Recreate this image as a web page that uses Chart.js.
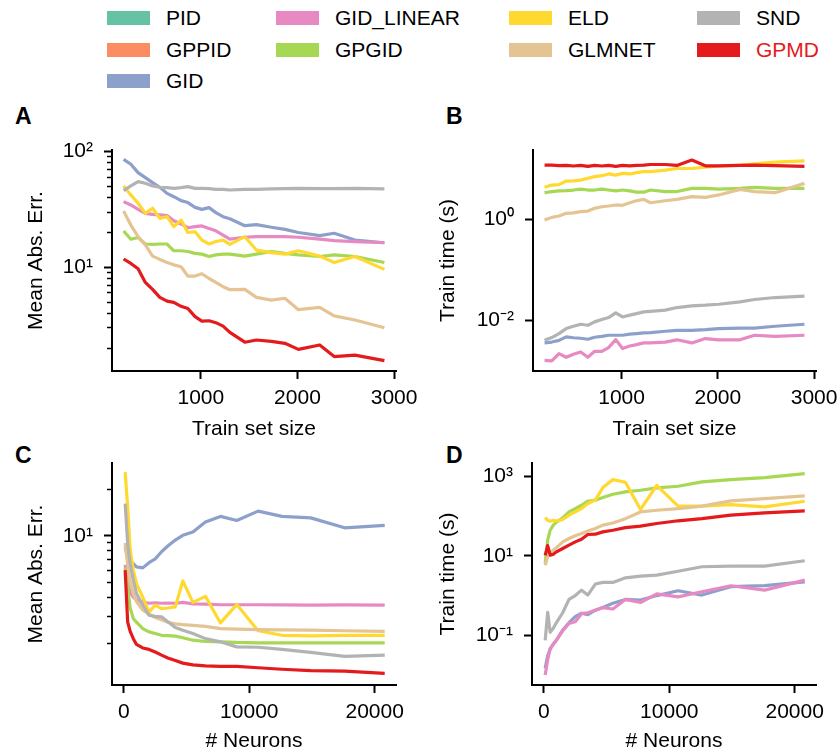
<!DOCTYPE html>
<html><head><meta charset="utf-8">
<script src="https://cdn.jsdelivr.net/npm/chart.js@4"></script>
<style>
body{margin:0;background:#fff;width:840px;height:754px;position:relative;overflow:hidden;font-family:"Liberation Sans",Arial,sans-serif;color:#000}
canvas{position:absolute}
.lg{position:absolute;display:flex;align-items:center;height:20px;font-size:21px;line-height:20px;white-space:nowrap}
.lg .b{display:inline-block;width:43px;height:14px;margin-right:16px}
.pl{position:absolute;font-weight:bold;font-size:23px;line-height:22px}
</style></head><body>
<div id="legend"></div>
<div class="pl" style="left:15px;top:105px">A</div>
<div class="pl" style="left:446px;top:105px">B</div>
<div class="pl" style="left:15px;top:444px">C</div>
<div class="pl" style="left:446px;top:444px">D</div>
<canvas id="cA" width="420" height="345" style="left:0;top:100px"></canvas>
<canvas id="cB" width="420" height="345" style="left:420px;top:100px"></canvas>
<canvas id="cC" width="420" height="314" style="left:0;top:440px"></canvas>
<canvas id="cD" width="420" height="314" style="left:420px;top:440px"></canvas>
<script>
// ---------- series ----------
const seriesNames  = ['PID','GPPID','GID','GID_LINEAR','GPGID','ELD','GLMNET','SND','GPMD'];
const seriesColors = ['#66c2a5','#fc8d62','#8da0cb','#e78ac3','#a6d854','#ffd92f','#e5c494','#b3b3b3','#e41a1c'];

// ---------- x values ----------
const trainSizes = [200,275,350,425,500,575,650,720,795,865,940,1010,1085,1155,1230,1300,1455,1575,1730,1870,2010,2230,2380,2595,2900];
const neuronCounts = [100,300,500,750,1000,1500,2000,2500,3000,3500,4100,4700,5500,6500,7700,9000,10700,12600,14900,17600,20800];

// ---------- A: Mean Abs. Err. vs train set size ----------
const A_GID        = [85.9,77.8,65.9,59.7,54,49.2,43.6,40.8,37.7,36.3,33,31.7,32.8,29.7,27.4,26.3,22.9,23.4,22.2,21.3,20,18.8,19.7,17.2,16.3];
const A_GID_LINEAR = [37,34.6,31.7,29.3,28.7,28.4,28,25.3,23.7,22,22.5,22.8,21.7,20.7,19,17.5,18.2,18.4,18.4,18.4,18.2,17.5,17,16.7,16.3];
const A_GPGID      = [20.6,17.5,18.1,15.9,15.8,15.9,15.9,13.9,13.9,13.7,13.2,13.0,12.4,12.8,13.0,13.0,12.5,13.0,13.7,13.2,12.8,12.4,12.8,12.4,11.0];
const A_ELD        = [50.6,42.3,35.8,29.3,32.4,26.5,27.4,22.5,25.6,20,20.3,17.2,15.9,16.7,17.2,15.8,18.4,14.1,13.4,13.0,13.9,12.5,11.0,12.4,9.6];
const A_GLMNET     = [30.7,23.2,18.4,15.6,12.5,11.7,11,10.5,10.1,8.4,8.4,8.8,8,7.4,6.8,6.4,6.45,5.5,5.2,5.4,4.3,4.5,3.8,3.5,3.0];
const A_SND        = [46,50.6,55.1,53.3,50.6,49.2,48.9,48.2,48.9,49.9,48.2,48.2,47.9,47.2,47.2,46.6,47.2,47.2,47.6,47.9,48.2,47.9,47.9,48.2,47.6];
const A_GPMD       = [11.8,10.8,9.7,7.4,6.45,5.5,5.1,4.98,4.6,4.4,3.74,3.43,3.45,3.32,3.1,2.74,2.25,2.35,2.29,2.2,1.95,2.13,1.69,1.74,1.56];

// ---------- B: Train time vs train set size ----------
const B_GID        = [0.00356,0.0037,0.004,0.00468,0.0045,0.0044,0.0042,0.0046,0.0048,0.00505,0.00505,0.00505,0.0053,0.00544,0.0056,0.0057,0.00605,0.0063,0.0063,0.0065,0.0068,0.007,0.007,0.0076,0.00833];
const B_GID_LINEAR = [0.00161,0.00157,0.00219,0.00185,0.00213,0.00236,0.00185,0.00243,0.00243,0.00288,0.00414,0.00275,0.0031,0.0033,0.00356,0.00356,0.0037,0.0041,0.00356,0.00434,0.0041,0.0041,0.00505,0.0048,0.00505];
const B_GPGID      = [3.32,3.5,3.6,3.65,3.75,3.9,3.75,3.75,3.9,3.75,3.6,3.75,3.6,3.4,3.4,3.75,3.5,3.5,4.05,4.05,3.9,4.05,4.24,4.05,4.05];
const B_ELD        = [4.24,4.7,4.8,5.65,5.7,5.9,6.4,6.9,7.2,7.8,7.4,8.0,7.8,8.3,8.7,8.7,9.3,10,10,10.6,11.2,11.7,12.3,13.4,14.1];
const B_GLMNET     = [0.955,1.08,1.15,1.3,1.33,1.4,1.44,1.63,1.75,1.81,1.9,1.87,2.1,2.3,2.45,2.1,2.3,2.45,2.77,2.69,3.0,3.87,3.5,3.32,5.08];
const B_SND        = [0.0040,0.00454,0.00544,0.00684,0.0076,0.00833,0.00795,0.00927,0.0103,0.0113,0.014,0.0116,0.0126,0.0135,0.0146,0.015,0.0158,0.0178,0.0192,0.0198,0.0207,0.0231,0.0257,0.0281,0.0299];
const B_GPMD       = [11.7,11.7,11.4,11.5,11.2,11.5,11.0,11.5,11.2,11.5,11.0,11.5,11.3,11.5,11.7,12.0,12.0,11.5,14.7,11.3,11.3,11.5,11.7,11.4,11.0];

// ---------- C: Mean Abs. Err. vs # neurons ----------
const C_GID        = [8.5,7.2,6.8,6.6,6.3,6.2,6.7,7.1,7.9,8.6,9.4,10.1,10.6,12.3,13.4,12.6,14.5,13.4,13.1,11.3,11.7];
const C_GID_LINEAR = [6.5,5.0,4.3,4.0,3.85,3.72,3.65,3.68,3.65,3.66,3.65,3.7,3.62,3.6,3.57,3.57,3.57,3.56,3.55,3.56,3.55];
const C_GPGID      = [6.2,4.6,3.4,2.9,2.75,2.5,2.38,2.32,2.26,2.25,2.23,2.18,2.1,2.06,2.05,2.03,2.02,2.02,2.02,2.02,2.02];
const C_ELD        = [26,15.4,8.1,6.0,4.9,4.0,3.2,3.55,3.37,3.4,3.46,5.1,3.7,4.05,2.72,3.58,2.42,2.26,2.24,2.26,2.26];
const C_GLMNET     = [9,6.5,5.0,4.2,3.75,3.3,3.1,2.95,2.85,2.75,2.68,2.65,2.62,2.58,2.5,2.48,2.46,2.45,2.44,2.42,2.4];
const C_SND        = [16.2,8.9,6.6,5.15,4.23,3.55,3.05,3.0,2.98,2.77,2.54,2.44,2.32,2.15,2.05,1.9,1.89,1.83,1.75,1.65,1.68];
const C_GPMD       = [6.0,2.75,2.4,2.15,1.97,1.87,1.83,1.76,1.68,1.61,1.55,1.49,1.45,1.43,1.42,1.42,1.39,1.36,1.33,1.32,1.28];

// ---------- D: Train time vs # neurons ----------
const D_GID        = [0.0149,0.0305,0.045,0.06,0.076,0.136,0.208,0.294,0.36,0.33,0.43,0.5,0.64,0.8,0.77,1.0,1.32,1.03,1.67,1.77,2.22];
const D_GID_LINEAR = [0.0101,0.024,0.047,0.06,0.076,0.13,0.2,0.22,0.35,0.37,0.43,0.5,0.46,0.8,0.67,1.1,0.93,1.25,1.77,1.37,2.45];
const D_GPGID      = [6.4,24.7,44,59,70,90,127,154,187,236,251,291,353,404,446,509,561,721,824,926,1167];
const D_ELD        = [92,78,74,78,75,82,105,127,154,206,251,519,824,707,146,594,177,177,194,170,236];
const D_GLMNET     = [5.8,9.4,12,13.9,16,22.4,27.2,32,36.4,42,48.6,59,67,86,127,140,154,177,240,275,321];
const D_SND        = [0.075,0.38,0.12,0.15,0.21,0.37,0.8,1.0,1.37,1.03,1.95,2.14,2.14,2.8,3.09,3.27,4.1,5.3,5.5,5.5,7.5];
const D_GPMD       = [10.2,18,10.4,11,12.6,15.3,18.5,22.4,26.2,34.3,35,40,44,51,56,65,76,86,105,120,135];

// ---------- ticks ----------
const xTicksTrain   = [1000,2000,3000];
const xLabelsTrain  = ['1000','2000','3000'];
const xTicksNeurons = [0,10000,20000];
const xLabelsNeurons= ['0','10000','20000'];
const yMajorA = [10,100];           const yLabelsA = ['10¹','10²'];
const yMinorA = [2,3,4,5,6,7,8,9,20,30,40,50,60,70,80,90];
const yMajorB = [0.01,1];           const yLabelsB = ['10⁻²','10⁰'];
const yMajorC = [10];               const yLabelsC = ['10¹'];
const yMinorC = [2,3,4,5,6,7,8,9,20];
const yMajorD = [0.1,10,1000];      const yLabelsD = ['10⁻¹','10¹','10³'];

// ---------- legend (HTML, built from the series arrays) ----------
(function(){
  const colLeft = [107,276,509,697], rowTop = [8,39.5,70.5];
  const nCol = 4, nRow = Math.ceil(seriesNames.length / nCol);
  const lg = document.getElementById('legend');
  let idx = 0;
  for (let c = 0; c < nCol; c++) {
    const count = c < seriesNames.length - (nRow - 1) * nCol ? nRow : nRow - 1;
    for (let r = 0; r < count && idx < seriesNames.length; r++, idx++) {
      const d = document.createElement('div');
      d.className = 'lg';
      d.style.left = colLeft[c] + 'px';
      d.style.top = rowTop[r] + 'px';
      const b = document.createElement('span'); b.className = 'b'; b.style.background = seriesColors[idx];
      const t = document.createElement('span'); t.textContent = seriesNames[idx];
      if (seriesNames[idx] === 'GPMD') t.style.color = seriesColors[idx];
      d.appendChild(b); d.appendChild(t); lg.appendChild(d);
    }
  }
})();

const FONT = "'Liberation Sans', Arial, sans-serif";
const FS = 21;
Chart.defaults.color = '#000';
Chart.defaults.font.family = FONT;

function colorOf(name){ return seriesColors[seriesNames.indexOf(name)]; }

function makeChart(id, p) {
  const datasets = p.series.map(([name, vals]) => ({
    label: name,
    data: p.xs.map((x, i) => ({x: x, y: vals[i]})),
    borderColor: colorOf(name),
    backgroundColor: colorOf(name),
    borderWidth: 3.2, pointRadius: 0, pointHoverRadius: 0, tension: 0, fill: false,
    borderJoinStyle: 'round', borderCapStyle: 'butt',
    order: 100 - seriesNames.indexOf(name)
  }));
  const isMajor = v => p.yMajor.some(m => Math.abs(Math.log10(v) - Math.log10(m)) < 1e-6);
  const yLabel = v => { for (let i = 0; i < p.yMajor.length; i++) if (Math.abs(Math.log10(v) - Math.log10(p.yMajor[i])) < 1e-6) return p.yLabels[i]; return ''; };
  const tickMajor = c => !c.tick || isMajor(c.tick.value);
  return new Chart(document.getElementById(id), {
    type: 'line',
    data: {datasets},
    options: {
      responsive: false, animation: false, devicePixelRatio: 1,
      layout: {padding: p.pad},
      plugins: {legend: {display: false}, tooltip: {enabled: false}},
      events: [],
      scales: {
        x: {
          type: 'linear', min: p.xr[0], max: p.xr[1], bounds: 'data',
          afterBuildTicks: s => { s.ticks = p.xTicks.map(v => ({value: v})); },
          afterFit: s => { s.height = p.xH; s.paddingLeft = 0; s.paddingRight = 0; },
          ticks: {autoSkip: false, maxRotation: 0, minRotation: 0, padding: 7, color: '#000',
                  font: {size: FS, family: FONT},
                  callback: v => { const i = p.xTicks.indexOf(v); return i >= 0 ? p.xLabels[i] : ''; }},
          grid: {display: true, drawOnChartArea: false, drawTicks: true, tickLength: 8, tickWidth: 2, tickColor: '#000'},
          border: {display: true, color: '#000', width: 2},
          title: {display: true, text: p.xTitle, color: '#000', font: {size: FS, family: FONT}, padding: {top: 0, bottom: p.xTitlePad}}
        },
        y: {
          type: 'logarithmic', min: p.yr[0], max: p.yr[1], bounds: 'data',
          afterBuildTicks: s => { s.ticks = p.yMajor.concat(p.yMinor).map(v => ({value: v})); },
          afterFit: s => { s.width = p.yW; s.paddingTop = 0; s.paddingBottom = 0; },
          ticks: {autoSkip: false, padding: 11, color: '#000', font: {size: FS, family: FONT}, callback: v => yLabel(v)},
          grid: {display: true, drawOnChartArea: false, drawTicks: true, tickLength: 8, tickColor: '#000',
                 tickWidth: c => tickMajor(c) ? 2 : 1.5,
                 tickBorderDash: c => tickMajor(c) ? [] : [20, 3],
                 tickBorderDashOffset: c => tickMajor(c) ? 0 : 20},
          border: {display: true, color: '#000', width: 2},
          title: {display: true, text: p.yTitle, color: '#000', font: {size: FS, family: FONT}, padding: {top: p.yTitlePad, bottom: 0}}
        }
      }
    }
  });
}

makeChart('cA', {
  xs: trainSizes,
  series: [['GID',A_GID],['GID_LINEAR',A_GID_LINEAR],['GPGID',A_GPGID],['ELD',A_ELD],['GLMNET',A_GLMNET],['SND',A_SND],['GPMD',A_GPMD]],
  xr: [80, 3020], yr: [1.268, 103.4],
  xTicks: xTicksTrain, xLabels: xLabelsTrain, yMajor: yMajorA, yLabels: yLabelsA, yMinor: yMinorA,
  xTitle: 'Train set size', yTitle: 'Mean Abs. Err.',
  pad: {left: 14, top: 50, right: 24, bottom: 0}, yW: 98, xH: 74, yTitlePad: 9.4, xTitlePad: 3.4
});
makeChart('cB', {
  xs: trainSizes,
  series: [['GID',B_GID],['GID_LINEAR',B_GID_LINEAR],['GPGID',B_GPGID],['ELD',B_ELD],['GLMNET',B_GLMNET],['SND',B_SND],['GPMD',B_GPMD]],
  xr: [80, 3020], yr: [0.000991, 23.2],
  xTicks: xTicksTrain, xLabels: xLabelsTrain, yMajor: yMajorB, yLabels: yLabelsB, yMinor: [],
  xTitle: 'Train set size', yTitle: 'Train time (s)',
  pad: {left: 6, top: 50, right: 24, bottom: 0}, yW: 107, xH: 74, yTitlePad: 10, xTitlePad: 3.4
});
makeChart('cC', {
  xs: neuronCounts,
  series: [['GID',C_GID],['GID_LINEAR',C_GID_LINEAR],['GPGID',C_GPGID],['ELD',C_ELD],['GLMNET',C_GLMNET],['SND',C_SND],['GPMD',C_GPMD]],
  xr: [-950, 21700], yr: [1.074, 29.8],
  xTicks: xTicksNeurons, xLabels: xLabelsNeurons, yMajor: yMajorC, yLabels: yLabelsC, yMinor: yMinorC,
  xTitle: '# Neurons', yTitle: 'Mean Abs. Err.',
  pad: {left: 14, top: 23, right: 24, bottom: 0}, yW: 98, xH: 69, yTitlePad: 9.4, xTitlePad: 0
});
makeChart('cD', {
  xs: neuronCounts,
  series: [['GID',D_GID],['GID_LINEAR',D_GID_LINEAR],['GPGID',D_GPGID],['ELD',D_ELD],['GLMNET',D_GLMNET],['SND',D_SND],['GPMD',D_GPMD]],
  xr: [-950, 21700], yr: [0.005636, 2158],
  xTicks: xTicksNeurons, xLabels: xLabelsNeurons, yMajor: yMajorD, yLabels: yLabelsD, yMinor: [],
  xTitle: '# Neurons', yTitle: 'Train time (s)',
  pad: {left: 6, top: 23, right: 24, bottom: 0}, yW: 106, xH: 69, yTitlePad: 10, xTitlePad: 0
});
</script>
</body></html>
